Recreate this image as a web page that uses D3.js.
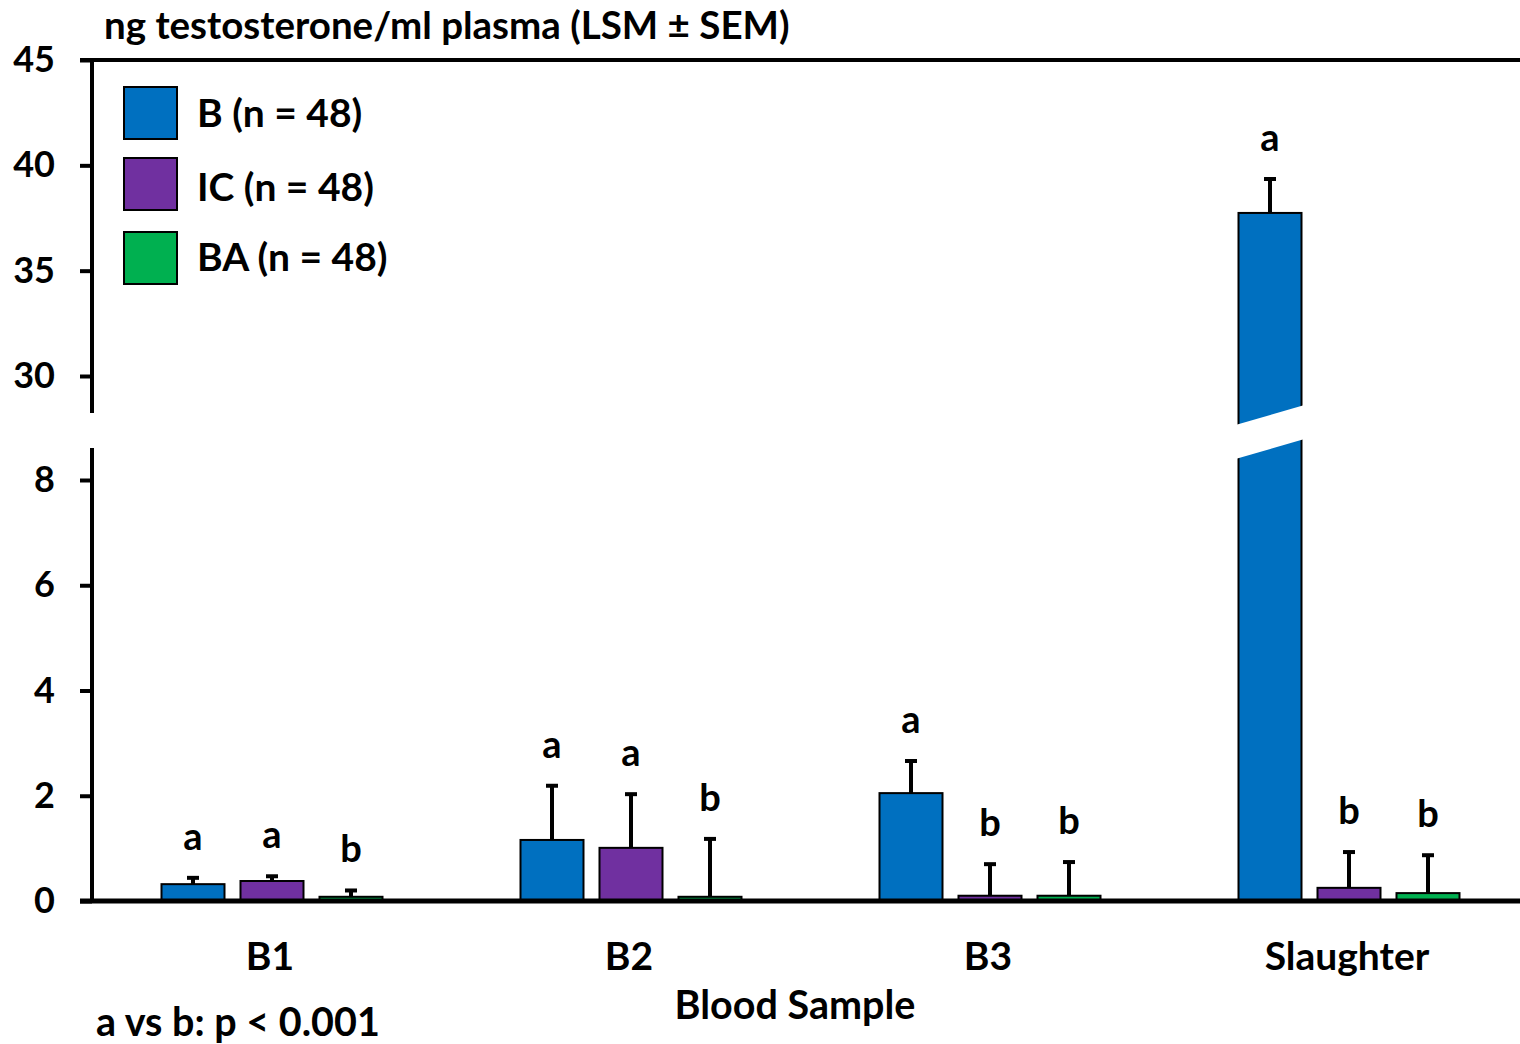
<!DOCTYPE html>
<html>
<head>
<meta charset="utf-8">
<script src="https://cdn.jsdelivr.net/npm/d3@7"></script>
<style>
  body { margin: 0; background: #fff; }
  svg text { font-family: Lato, "Open Sans", sans-serif; font-weight: bold; fill: #000; }
</style>
</head>
<body>
<svg id="chart" width="1520" height="1044"></svg>
<script>
var samples = ["B1", "B2", "B3", "Slaughter"];
var groups = ["B", "IC", "BA"];
var groupLabels = ["B (n = 48)", "IC (n = 48)", "BA (n = 48)"];
var colors = ["#0070C0", "#7030A0", "#00B050"];

// LSM and SEM, rows = sample, columns = group
var means = [
    [0.32, 0.38, 0.08],
    [1.16, 1.01, 0.08],
    [2.05, 0.10, 0.10],
    [37.74, 0.25, 0.15]
];
var sems = [
    [0.12, 0.09, 0.12],
    [1.03, 1.02, 1.10],
    [0.61, 0.60, 0.64],
    [1.61, 0.68, 0.72]
];
var letters = [
    ["a", "a", "b"],
    ["a", "a", "b"],
    ["a", "b", "b"],
    ["a", "b", "b"]
];
var lowTicks = [0, 2, 4, 6, 8];
var highTicks = [30, 35, 40, 45];

var svg = d3.select("#chart");
var axisX = 92;

var x0 = d3.scaleBand().domain(samples).range([92.5, 1528.5]);
var x1 = d3.scaleBand().domain(groups).range([-110.5, 110.5]).paddingInner(0.2025);

var yLow = d3.scaleLinear().domain([0, 8]).range([901, 480]);
var yHigh = d3.scaleLinear().domain([30, 45]).range([376, 60]);
function y(v) {
    return v <= 8 ? yLow(v) : yHigh(v);
}
var breakY = (yLow(8) + yHigh(30)) / 2;

// bars
var barData = [];
samples.forEach(function (s, i) {
    groups.forEach(function (g, j) {
        barData.push({sample: s, group: g, j: j, mean: means[i][j], sem: sems[i][j], letter: letters[i][j]});
    });
});

var bars = svg.append("g").attr("class", "bars");

function cx(d) {
    return x0(d.sample) + x0.bandwidth() / 2 + x1(d.group) + x1.bandwidth() / 2;
}

// error bars (drawn first, bar covers the lower part)
bars.selectAll(".err")
    .data(barData)
    .enter().append("line")
    .attr("class", "err")
    .attr("x1", cx).attr("x2", cx)
    .attr("y1", function (d) { return y(d.mean); })
    .attr("y2", function (d) { return y(d.mean + d.sem); })
    .attr("stroke", "#000")
    .attr("stroke-width", 4);

bars.selectAll(".cap")
    .data(barData)
    .enter().append("line")
    .attr("class", "cap")
    .attr("x1", function (d) { return cx(d) - 6; })
    .attr("x2", function (d) { return cx(d) + 6; })
    .attr("y1", function (d) { return y(d.mean + d.sem); })
    .attr("y2", function (d) { return y(d.mean + d.sem); })
    .attr("stroke", "#000")
    .attr("stroke-width", 4);

bars.selectAll(".bar")
    .data(barData)
    .enter().append("rect")
    .attr("class", "bar")
    .attr("x", function (d) { return cx(d) - x1.bandwidth() / 2; })
    .attr("width", x1.bandwidth())
    .attr("y", function (d) { return y(d.mean); })
    .attr("height", function (d) { return yLow(0) - y(d.mean); })
    .attr("fill", function (d) { return colors[d.j]; })
    .attr("stroke", "#000")
    .attr("stroke-width", 2);

// break through bars that cross the gap
barData.filter(function (d) { return d.mean > 8; }).forEach(function (d) {
    var left = cx(d) - x1.bandwidth() / 2 - 3,
        right = cx(d) + x1.bandwidth() / 2 + 3,
        mid = breakY + 4, h = 17, slant = 10;
    bars.append("polygon")
        .attr("points", [
            [left, mid + slant - h], [right, mid - slant - h],
            [right, mid - slant + h], [left, mid + slant + h]
        ].map(function (p) { return p.join(","); }).join(" "))
        .attr("fill", "#fff");
});

// significance letters
bars.selectAll(".letter")
    .data(barData)
    .enter().append("text")
    .attr("class", "letter")
    .attr("x", cx)
    .attr("y", function (d) { return y(d.mean + d.sem) - 28; })
    .attr("text-anchor", "middle")
    .style("font-size", "38px")
    .text(function (d) { return d.letter; });

// y axis
var axisLow = d3.axisLeft(yLow).tickValues(lowTicks).tickSize(12).tickPadding(25).tickSizeOuter(0);
var axisHigh = d3.axisLeft(yHigh).tickValues(highTicks).tickSize(12).tickPadding(25).tickSizeOuter(0);

[axisLow, axisHigh].forEach(function (ax) {
    var g = svg.append("g")
        .attr("class", "y axis")
        .attr("transform", "translate(" + axisX + ",0)")
        .call(ax);
    g.select(".domain").remove();
    g.selectAll(".tick line").attr("stroke", "#000").attr("stroke-width", 4);
    g.selectAll(".tick text")
        .style("font-family", "Lato, 'Open Sans', sans-serif")
        .style("font-weight", "bold")
        .style("font-size", "36px")
        .attr("fill", "#000");
});

svg.append("line")
    .attr("x1", axisX).attr("x2", axisX)
    .attr("y1", yHigh(45) - 2).attr("y2", breakY - 15)
    .attr("stroke", "#000").attr("stroke-width", 4);
svg.append("line")
    .attr("x1", axisX).attr("x2", axisX)
    .attr("y1", breakY + 20).attr("y2", yLow(0))
    .attr("stroke", "#000").attr("stroke-width", 4);

// top and bottom frame lines
svg.append("line")
    .attr("x1", 80).attr("x2", 1520)
    .attr("y1", yHigh(45)).attr("y2", yHigh(45))
    .attr("stroke", "#000").attr("stroke-width", 4);
svg.append("line")
    .attr("x1", 80).attr("x2", 1520)
    .attr("y1", yLow(0)).attr("y2", yLow(0))
    .attr("stroke", "#000").attr("stroke-width", 5);

// x axis labels
svg.append("g").selectAll(".xlab")
    .data(samples)
    .enter().append("text")
    .attr("class", "xlab")
    .attr("x", function (d) { return x0(d) + x0.bandwidth() / 2 - 2; })
    .attr("y", 970)
    .attr("text-anchor", "middle")
    .style("font-size", "39px")
    .text(function (d) { return d; });

svg.append("text")
    .attr("x", 795).attr("y", 1019)
    .attr("text-anchor", "middle")
    .style("font-size", "39.5px")
    .text("Blood Sample");

svg.append("text")
    .attr("x", 96).attr("y", 1036)
    .style("font-size", "39.5px")
    .text("a vs b: p < 0.001");

svg.append("text")
    .attr("x", 104).attr("y", 39)
    .style("font-size", "38.5px")
    .text("ng testosterone/ml plasma (LSM ± SEM)");

// legend
var legend = svg.append("g").attr("class", "legend");
var legendTops = [87, 158, 232];
var legendBase = [127, 201, 271];
groupLabels.forEach(function (lab, i) {
    legend.append("rect")
        .attr("x", 124).attr("y", legendTops[i])
        .attr("width", 53).attr("height", 52)
        .attr("fill", colors[i])
        .attr("stroke", "#000").attr("stroke-width", 2);
    legend.append("text")
        .attr("x", 197).attr("y", legendBase[i])
        .style("font-size", "39px")
        .text(lab);
});
</script>
</body>
</html>
